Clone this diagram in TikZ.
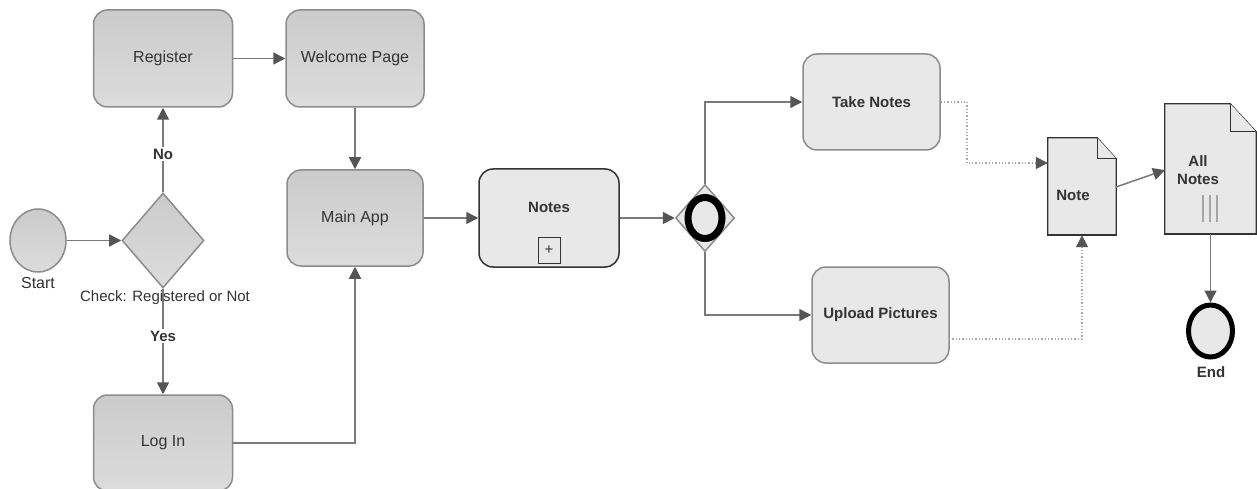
\documentclass[tikz,border=0pt]{standalone}
\usepackage{fontspec}
\setmainfont{Liberation Sans}
\usetikzlibrary{arrows.meta,shapes.geometric,calc}
\definecolor{linec}{HTML}{7A7A7A}
\definecolor{tipc}{HTML}{555555}
\definecolor{boxborder}{HTML}{8C8C8C}
\definecolor{gtop}{HTML}{CBCBCB}
\definecolor{gbot}{HTML}{DCDCDC}
\definecolor{lightf}{HTML}{E8E8E8}
\definecolor{txt}{HTML}{333333}
\definecolor{dotc}{HTML}{A8A8A8}
\tikzset{
  graybox/.style={rounded corners=14pt, draw=boxborder, line width=1.5pt, top color=gtop, bottom color=gbot, text=txt, font=\fontsize{16}{19}\selectfont, inner sep=0pt},
  lightbox/.style={rounded corners=14pt, draw=boxborder, line width=1.5pt, fill=lightf, text=txt, font=\bfseries\fontsize{15}{18}\selectfont, inner sep=0pt},
  flow/.style={draw=linec, line width=1.5pt, -{Triangle[length=12pt,width=12pt,color=tipc]}},
  dotflow/.style={draw=dotc, line width=1.3pt, dotted, -{Triangle[length=12pt,width=12pt,color=tipc]}},
  lbl/.style={fill=white, text=txt, font=\bfseries\fontsize{15}{18}\selectfont, inner sep=2pt},
  plain/.style={text=txt, font=\fontsize{16}{19}\selectfont, inner sep=0pt},
  boldtxt/.style={text=txt, font=\bfseries\fontsize{15}{18}\selectfont, inner sep=0pt},
  docst/.style={draw=txt, line width=1.3pt, fill=lightf, line join=miter},
}
\begin{document}
\begin{tikzpicture}[x=1pt,y=-1pt]
\useasboundingbox (0,0) rectangle (1257,489);
\clip (0,0) rectangle (1257,489);
% nodes
\node[ellipse, draw=boxborder, line width=1.5pt, top color=gtop, bottom color=gbot, minimum width=56pt, minimum height=63pt, inner sep=0pt] (start) at (38,240.5) {};
\node[plain, anchor=north] (startlbl) at (38,277) {Start};
\node[diamond, draw=boxborder, line width=1.5pt, top color=gtop, bottom color=gbot, minimum width=82pt, minimum height=95pt, inner sep=0pt] (chk) at (163,240.5) {};
\node[plain, font=\fontsize{15}{18}\selectfont] (chklbl) at (165,298) {Check: Registered or Not};
\node[graybox, minimum width=139pt, minimum height=97pt] (reg) at (163,58.5) {Register};
\node[graybox, minimum width=138pt, minimum height=97pt] (wel) at (355,58.5) {Welcome Page};
\node[graybox, minimum width=136pt, minimum height=96pt] (main) at (355,218) {Main App};
\node[graybox, minimum width=139pt, minimum height=96pt] (login) at (163,443) {Log In};
\node[lightbox, draw=txt, minimum width=140pt, minimum height=98pt] (notes) at (549,218) {};
\node[boldtxt] (noteslbl) at (549,207) {Notes};
\node[draw=txt, line width=1pt, fill=lightf, minimum width=22pt, minimum height=26pt, inner sep=0pt, text=txt, font=\fontsize{15}{17}\selectfont] (plus) at (549,250) {+};
\node[diamond, draw=boxborder, line width=1.5pt, fill=lightf, minimum width=59pt, minimum height=67pt, inner sep=0pt] (gw) at (705,218) {};
\draw[line width=7pt, black] (gw.center) ellipse (17pt and 20.5pt);
\node[lightbox, minimum width=137pt, minimum height=96pt] (take) at (871.5,102) {Take Notes};
\node[lightbox, minimum width=137pt, minimum height=96pt] (upl) at (880.5,315) {Upload Pictures};
% Note document
\node[minimum width=68pt, minimum height=97pt, inner sep=0pt] (noteD) at (1082,186.5) {};
\draw[docst] (noteD.north west) -- ($(noteD.north east)+(-19,0)$) -- ($(noteD.north east)+(0,21)$) -- (noteD.south east) -- (noteD.south west) -- cycle;
\draw[docst] ($(noteD.north east)+(-19,0)$) -- ($(noteD.north east)+(-19,21)$) -- ($(noteD.north east)+(0,21)$);
\draw[draw=txt, line width=2.5pt] (noteD.south west) -- (noteD.south east);
\node[boldtxt] (notelbl) at (1073,195) {Note};
% All Notes document
\node[minimum width=91pt, minimum height=130pt, inner sep=0pt] (allD) at (1210.5,169) {};
\draw[docst] (allD.north west) -- ($(allD.north east)+(-26,0)$) -- ($(allD.north east)+(0,28)$) -- (allD.south east) -- (allD.south west) -- cycle;
\draw[docst] ($(allD.north east)+(-26,0)$) -- ($(allD.north east)+(-26,28)$) -- ($(allD.north east)+(0,28)$);
\draw[draw=txt, line width=2.5pt] (allD.south west) -- (allD.south east);
\node[boldtxt, align=center] (alllbl) at (1198,170) {All\\Notes};
\draw[draw=gray!70, line width=1.2pt] (1203,195) -- (1203,222) (1210,195) -- (1210,222) (1217,195) -- (1217,222);
% End
\node[ellipse, draw=black, line width=5pt, fill=lightf, minimum width=44pt, minimum height=52pt, inner sep=0pt] (endE) at (1210.5,331) {};
\node[boldtxt] (endlbl) at (1211,372) {End};
% connectors
\coordinate (tn1) at (967,163);
\coordinate (up1) at (949,339);
\coordinate (al1) at (1165,170);
\coordinate (nt1) at (1116,187);
\draw[flow] (start) -- (chk);
\draw[flow] (chk.north) -- node[lbl, pos=0.45] (nolbl) {No} (reg.south);
\draw[flow] (chk.south) -- node[lbl, pos=0.45] (yeslbl) {Yes} (login.north);
\draw[flow] (reg) -- (wel);
\draw[flow] (wel) -- (main);
\draw[flow] (login.east) -| (main.south);
\draw[flow] (main) -- (notes);
\draw[flow] (notes) -- (gw);
\draw[flow] (gw.north) |- (take.west);
\draw[flow] (gw.south) |- (upl.west);
\draw[dotflow] (take.east) -| (tn1) -- (noteD.west |- tn1);
\draw[dotflow] (up1) -| (noteD.south);
\draw[flow] (nt1) -- (al1);
\draw[flow] (allD.south) -- (endE.north);
\end{tikzpicture}
\end{document}
